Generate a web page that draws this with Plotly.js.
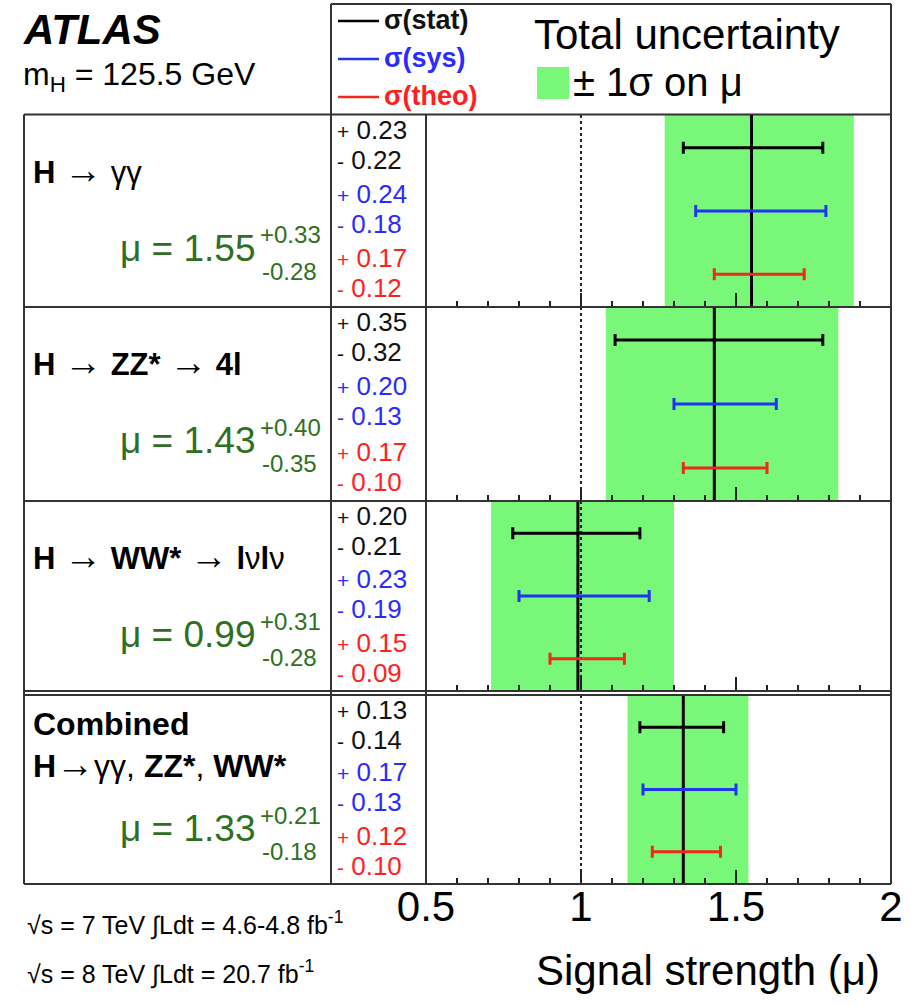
<!DOCTYPE html>
<html><head><meta charset="utf-8">
<script src="https://cdn.plot.ly/plotly-3.0.1.min.js"></script>
<style>html,body{margin:0;padding:0;background:#fff}</style>
</head><body><div id="chart" style="width:916px;height:1005px"></div>
<script>
// ---------------- data ----------------
const ARW = "<span style='font-size:38px'>→</span>";
const channelTitles = [
  "<b>H</b> " + ARW + " γγ",
  "<b>H</b> " + ARW + " <b>ZZ*</b> " + ARW + " <b>4l</b>",
  "<b>H</b> " + ARW + " <b>WW*</b> " + ARW + " <b>l</b>ν<b>l</b>ν",
  "<b>Combined</b><br><b>H</b>" + ARW + "γγ, <b>ZZ*</b>, <b>WW*</b>"
];
const mu       = [1.55, 1.43, 0.99, 1.33];
const totUp    = [0.33, 0.40, 0.31, 0.21];
const totDown  = [0.28, 0.35, 0.28, 0.18];
const statUp   = [0.23, 0.35, 0.20, 0.13];
const statDown = [0.22, 0.32, 0.21, 0.14];
const sysUp    = [0.24, 0.20, 0.23, 0.17];
const sysDown  = [0.18, 0.13, 0.19, 0.13];
const theoUp   = [0.17, 0.17, 0.15, 0.12];
const theoDown = [0.12, 0.10, 0.09, 0.10];
const smExpectation = 1;
const xTickVals = [0.5, 1, 1.5, 2];
const xTickText = ["0.5", "1", "1.5", "2"];
const componentNames = ["stat", "sys", "theo"];

// ---------------- styling / layout constants ----------------
const W = 916, H = 1005;
const px = x => x / W;
const py = y => 1 - y / H;
const FONT = "Liberation Sans, Arial, Helvetica, sans-serif";
const GREEN = "rgb(121,247,121)";
const TXTGREEN = "#2f6f22";
const BORDER = "#333";
const compColors = ["#000000", "#1f35f0", "#ee2a1c"];
const numColors = ["#111111", "#2b2bff", "#ff1f1f"];
const panelTop = [115, 307, 501, 695];
const panelBot = [307, 501, 691, 884];
const plotLeft = 426, plotRight = 891;
const rowPos = [0.17, 0.5, 0.83];
const pairFrac = [0.157, 0.487, 0.825];   // vertical centre of each +/- pair
const pairGap = 15;                        // half distance between the two lines, px

const comps = [[statUp, statDown], [sysUp, sysDown], [theoUp, theoDown]];

const traces = [];
const layout = {
  width: W, height: H,
  margin: {l: 0, r: 0, t: 0, b: 0},
  paper_bgcolor: "#fff", plot_bgcolor: "rgba(0,0,0,0)",
  showlegend: false,
  font: {family: FONT, color: "#000"},
  shapes: [], annotations: []
};

for (let i = 0; i < 4; i++) {
  const sx = i === 0 ? "" : String(i + 1);
  const xa = "x" + sx, ya = "y" + sx;
  layout["xaxis" + sx] = {
    domain: [px(plotLeft), px(plotRight)], range: [0.5, 2], anchor: ya,
    tickmode: "array", tickvals: xTickVals, ticktext: xTickText,
    ticks: "inside", ticklen: 14, tickwidth: 1.5, tickcolor: "#222",
    minor: {tick0: 0.5, dtick: 0.1, ticks: "inside", ticklen: 6, tickwidth: 1.5, tickcolor: "#222"},
    showticklabels: i === 3, tickfont: {size: 42, family: FONT, color: "#000"},
    ticklabelstandoff: -6,
    showline: false, showgrid: false, zeroline: false, fixedrange: true
  };
  layout["yaxis" + sx] = {
    domain: [py(panelBot[i]), py(panelTop[i])], range: [1, 0], anchor: xa,
    visible: false, showgrid: false, zeroline: false, fixedrange: true
  };
  // total uncertainty band
  traces.push({type: "bar", orientation: "h", xaxis: xa, yaxis: ya,
    y: [0.5], x: [totUp[i] + totDown[i]], base: [mu[i] - totDown[i]], width: [1],
    marker: {color: GREEN, line: {width: 0}}, hoverinfo: "skip"});
  // SM expectation dotted line
  traces.push({type: "scatter", mode: "lines", xaxis: xa, yaxis: ya,
    x: [smExpectation, smExpectation], y: [0, 1],
    line: {color: "#222", width: 2, dash: "dot"}, hoverinfo: "skip"});
  // central value line
  traces.push({type: "scatter", mode: "lines", xaxis: xa, yaxis: ya,
    x: [mu[i], mu[i]], y: [0, 1], line: {color: "#000", width: 3}, hoverinfo: "skip"});
  // stat / sys / theo error bars
  for (let k = 0; k < 3; k++) {
    traces.push({type: "scatter", mode: "markers", xaxis: xa, yaxis: ya,
      name: componentNames[k],
      x: [mu[i]], y: [rowPos[k]], marker: {size: 1, color: "rgba(0,0,0,0)"},
      error_x: {type: "data", symmetric: false, array: [comps[k][0][i]], arrayminus: [comps[k][1][i]],
        color: compColors[k], thickness: 3, width: 6}, hoverinfo: "skip"});
  }
  // numbers column
  const h = panelBot[i] - panelTop[i];
  for (let k = 0; k < 3; k++) {
    const up = comps[k][0][i].toFixed(2), dn = comps[k][1][i].toFixed(2);
    const yc = panelTop[i] + pairFrac[k] * h;
    layout.annotations.push({xref: "paper", yref: "paper", x: px(335), y: py(yc - pairGap),
      xanchor: "left", yanchor: "middle", showarrow: false,
      text: "<span style='font-size:21px'>+</span> " + up, font: {size: 26, color: numColors[k], family: FONT}});
    layout.annotations.push({xref: "paper", yref: "paper", x: px(335), y: py(yc + pairGap),
      xanchor: "left", yanchor: "middle", showarrow: false,
      text: "<span style='font-size:21px'>-</span> " + dn, font: {size: 26, color: numColors[k], family: FONT}});
  }
  // channel title
  if (i < 3) {
    layout.annotations.push({xref: "paper", yref: "paper", x: px(31), y: py(panelTop[i] + 55),
      xanchor: "left", yanchor: "middle", showarrow: false, align: "left",
      text: channelTitles[i], font: {size: 31, color: "#000", family: FONT}});
  } else {
    layout.annotations.push({xref: "paper", yref: "paper", x: px(31), y: py(panelTop[i] + 50),
      xanchor: "left", yanchor: "middle", showarrow: false, align: "left",
      text: channelTitles[i], font: {size: 32, color: "#000", family: FONT}});
  }
  // mu value
  layout.annotations.push({xref: "paper", yref: "paper", x: px(258), y: py(panelTop[i] + 133),
    xanchor: "right", yanchor: "middle", showarrow: false,
    text: "μ = " + mu[i].toFixed(2), font: {size: 37, color: TXTGREEN, family: FONT}});
  layout.annotations.push({xref: "paper", yref: "paper", x: px(258), y: py(panelTop[i] + 120),
    xanchor: "left", yanchor: "middle", showarrow: false,
    text: "+" + totUp[i].toFixed(2), font: {size: 24, color: TXTGREEN, family: FONT}});
  layout.annotations.push({xref: "paper", yref: "paper", x: px(260), y: py(panelTop[i] + 156),
    xanchor: "left", yanchor: "middle", showarrow: false,
    text: "-" + totDown[i].toFixed(2), font: {size: 24, color: TXTGREEN, family: FONT}});
}

// ---------------- frame lines ----------------
function line(x0, y0, x1, y1, w) {
  layout.shapes.push({type: "line", xref: "paper", yref: "paper",
    x0: px(x0), y0: py(y0), x1: px(x1), y1: py(y1), line: {color: BORDER, width: w || 2}, layer: "above"});
}
line(331, 4, plotRight, 4);          // header top
line(plotRight, 4, plotRight, 884);   // right edge
line(331, 4, 331, 884);               // label / numbers divider
line(24, 114.5, plotRight, 114.5);
line(24, 114.5, 24, 884);
line(plotLeft, 114.5, plotLeft, 884);
line(24, 307, plotRight, 307);
line(24, 501, plotRight, 501);
line(24, 691, plotRight, 691);
line(24, 695, plotRight, 695);
line(24, 884, plotRight, 884);

// ---------------- header legend ----------------
const legendY = [21, 59, 97];
const legendText = ["σ(stat)", "σ(sys)", "σ(theo)"];
for (let k = 0; k < 3; k++) {
  layout.shapes.push({type: "line", xref: "paper", yref: "paper",
    x0: px(338), x1: px(379), y0: py(legendY[k]), y1: py(legendY[k]),
    line: {color: compColors[k], width: 2.5}});
  layout.annotations.push({xref: "paper", yref: "paper", x: px(382), y: py(legendY[k] - 1),
    xanchor: "left", yanchor: "middle", showarrow: false,
    text: "<b>" + legendText[k] + "</b>", font: {size: 27, color: numColors[k], family: FONT}});
}
layout.annotations.push({xref: "paper", yref: "paper", x: px(532), y: py(35),
  xanchor: "left", yanchor: "middle", showarrow: false,
  text: "Total uncertainty", font: {size: 42, color: "#000", family: FONT}});
layout.shapes.push({type: "rect", xref: "paper", yref: "paper",
  x0: px(537), x1: px(569), y0: py(99), y1: py(67), fillcolor: GREEN, line: {width: 0}});
layout.annotations.push({xref: "paper", yref: "paper", x: px(571), y: py(82),
  xanchor: "left", yanchor: "middle", showarrow: false,
  text: "± 1σ on μ", font: {size: 40, color: "#000", family: FONT}});

// ---------------- other text ----------------
layout.annotations.push({xref: "paper", yref: "paper", x: px(21), y: py(30),
  xanchor: "left", yanchor: "middle", showarrow: false,
  text: "<b><i>ATLAS</i></b>", font: {size: 42, color: "#000", family: FONT}});
layout.annotations.push({xref: "paper", yref: "paper", x: px(21), y: py(77),
  xanchor: "left", yanchor: "middle", showarrow: false,
  text: "m<sub>H</sub> = 125.5 GeV", font: {size: 32, color: "#000", family: FONT}});
layout.annotations.push({xref: "paper", yref: "paper", x: px(25), y: py(923),
  xanchor: "left", yanchor: "middle", showarrow: false,
  text: "√s = 7 TeV ∫Ldt = 4.6-4.8 fb<sup>-1</sup>", font: {size: 25, color: "#000", family: FONT}});
layout.annotations.push({xref: "paper", yref: "paper", x: px(25), y: py(972),
  xanchor: "left", yanchor: "middle", showarrow: false,
  text: "√s = 8 TeV ∫Ldt = 20.7 fb<sup>-1</sup>", font: {size: 25, color: "#000", family: FONT}});
layout.annotations.push({xref: "paper", yref: "paper", x: px(882), y: py(970),
  xanchor: "right", yanchor: "middle", showarrow: false,
  text: "Signal strength (μ)", font: {size: 42, color: "#000", family: FONT}});

Plotly.newPlot("chart", traces, layout, {displayModeBar: false, staticPlot: true});
</script>
</body></html>
